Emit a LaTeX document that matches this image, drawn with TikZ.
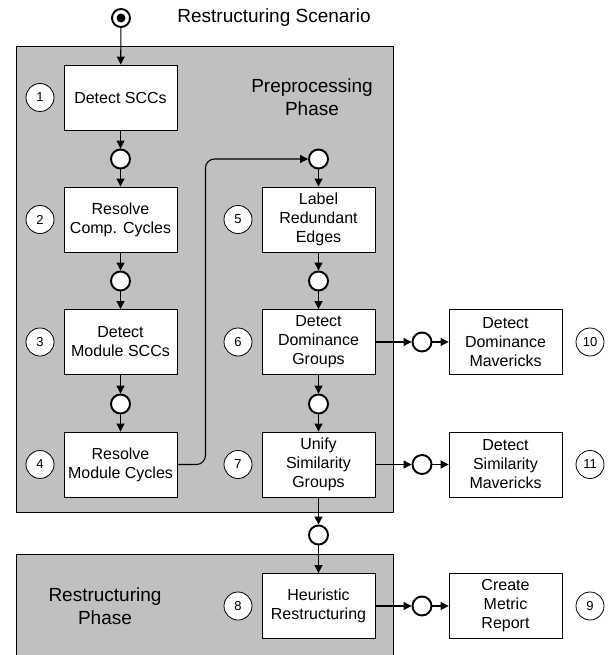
\documentclass[tikz,border=0pt]{standalone}
\usepackage{fontspec}
\setmainfont{Liberation Sans}
\usetikzlibrary{arrows.meta}
\definecolor{phasegray}{RGB}{192,192,192}
\tikzset{
  box/.style={draw,line width=0.9pt,fill=white,minimum width=113pt,minimum height=65pt,inner sep=1pt,align=center,font=\fontsize{16}{19}\selectfont},
  state/.style={circle,draw,line width=1.9pt,fill=white,minimum size=19pt,inner sep=0pt},
  num/.style={circle,draw,line width=0.8pt,fill=white,minimum size=28pt,inner sep=0pt,font=\fontsize{13}{15}\selectfont},
  flow/.style={line width=1.1pt,-{Triangle[length=8pt,width=8pt]}}
}
\begin{document}
\begin{tikzpicture}[x=1pt,y=-1pt]
\useasboundingbox (0,0) rectangle (609,655);
% phases
\draw[line width=0.9pt,fill=phasegray] (16,46) rectangle (393,512);
\fill[phasegray] (16,554) rectangle (393,655);\draw[line width=0.9pt] (16,655) -- (16,554) -- (393,554) -- (393,655);
\node[align=center,font=\fontsize{19}{23}\selectfont] (pre) at (312,97){Preprocessing\\Phase};
\node[align=center,font=\fontsize{19}{23}\selectfont] (res) at (105,606){Restructuring\\Phase};
\node[font=\fontsize{19}{23}\selectfont] (title) at (274,18){Restructuring Scenario};
% start
\node[circle,draw,line width=1.9pt,minimum size=18pt,inner sep=0pt] (start) at (121,18){};\fill (start) circle (4.5pt);
% activities
\foreach \n/\x/\y/\t in {1/120.5/97.5/{Detect SCCs},2/120.5/219.5/{Resolve\\Comp. Cycles},3/120.5/342/{Detect\\Module SCCs},4/120.5/464.5/{Resolve\\Module Cycles},
  5/318.5/219.5/{Label\\Redundant\\Edges},6/318.5/342/{Detect\\Dominance\\Groups},7/318.5/464.5/{Unify\\Similarity\\Groups},8/318.5/606/{Heuristic\\Restructuring},
  9/505.5/606/{Create\\Metric\\Report},10/505.5/342/{Detect\\Dominance\\Mavericks},11/505.5/464.5/{Detect\\Similarity\\Mavericks}}{\node[box] (b\n) at (\x,\y){\t};}
\foreach \n/\x/\y in {1/40/97.5,2/40/219.5,3/40/342,4/40/464.5,5/238/219.5,6/238/342,7/238/464.5,8/238/606,9/590/606,10/590/342,11/590/464.5}{\node[num] (n\n) at (\x,\y){\n};}
% states
\foreach \n/\x/\y in {1/120.5/159,2/120.5/281,3/120.5/404,4/318.5/159,5/318.5/281,6/318.5/404,7/318.5/535,9/422/606,10/422/342,11/422/464.5}{\node[state] (s\n) at (\x,\y){};}
% flows
\draw[flow] (start) -- (b1);
\foreach \a/\b in {b1/s1,s1/b2,b2/s2,s2/b3,b3/s3,s3/b4,s4/b5,b5/s5,s5/b6,b6/s6,s6/b7,b7/s7,s7/b8,b6/s10,s10/b10,b7/s11,s11/b11,b8/s9,s9/b9}{\draw[flow] (\a) -- (\b);}
\draw[flow,rounded corners=9pt] (b4.east) -- ++(28,0) |- (s4);
\end{tikzpicture}
\end{document}
